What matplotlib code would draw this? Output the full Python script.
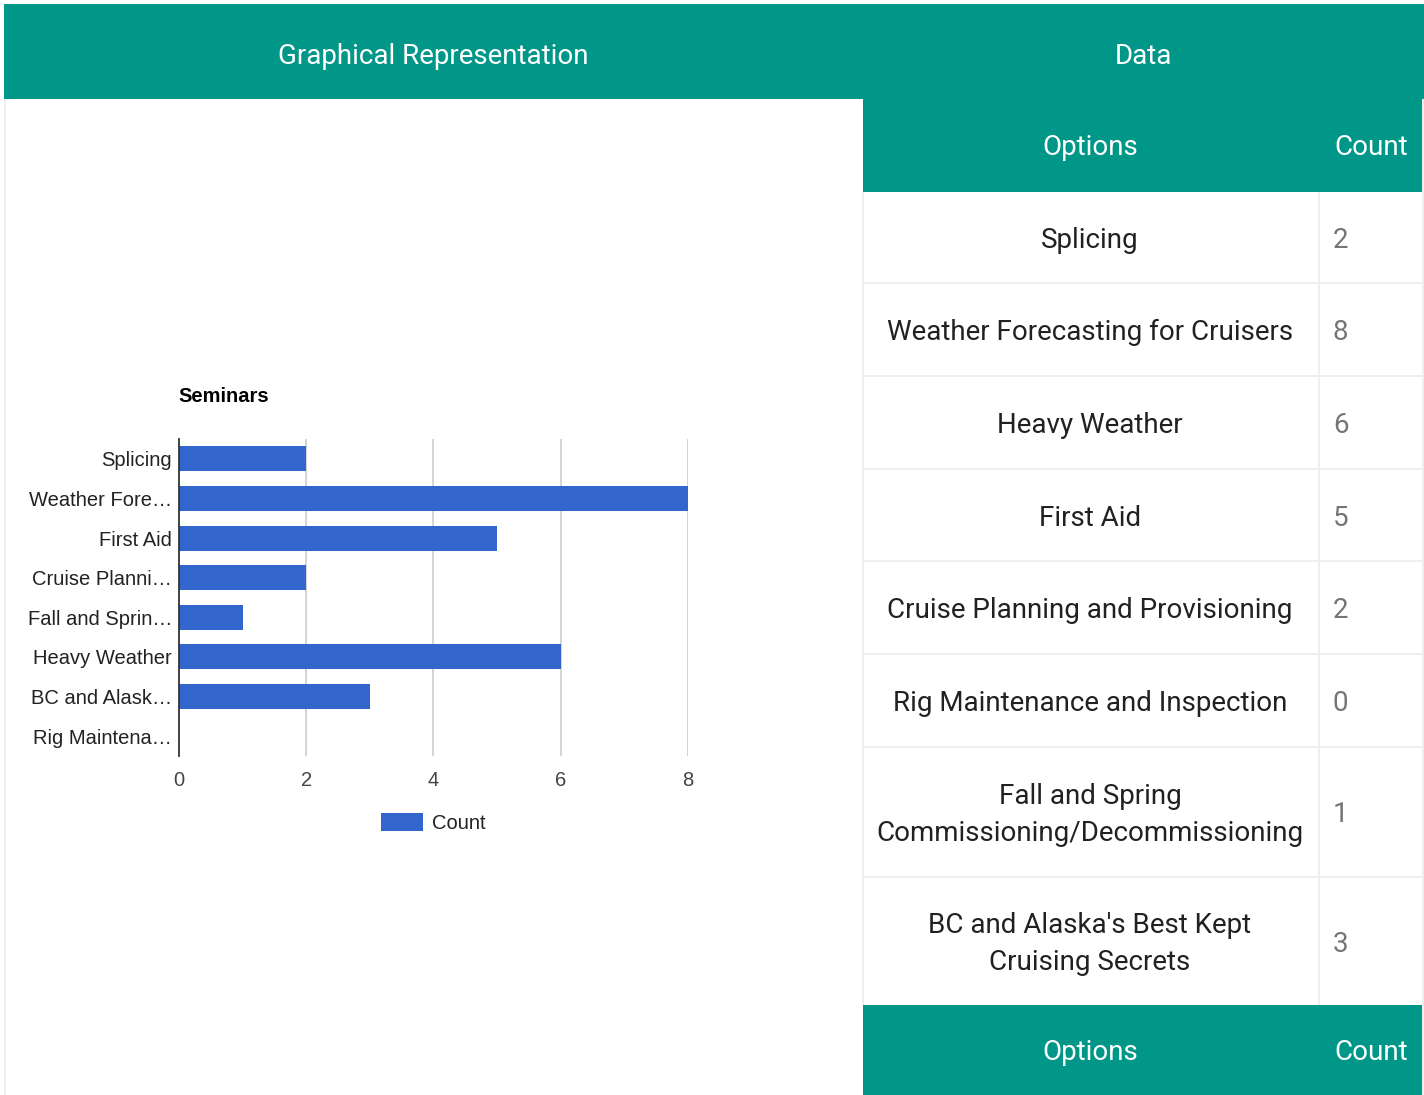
import numpy as np
import matplotlib
matplotlib.use("Agg")
import matplotlib.pyplot as plt
from matplotlib.patches import Rectangle

# ------------------------------------------------------------------ #
# Data                                                                #
# ------------------------------------------------------------------ #
chart_labels = ["Splicing", "Weather Fore…", "First Aid", "Cruise Planni…",
                "Fall and Sprin…", "Heavy Weather", "BC and Alask…",
                "Rig Maintena…"]
chart_counts = [2, 8, 5, 2, 1, 6, 3, 0]

table_options = ["Splicing",
                 "Weather Forecasting for Cruisers",
                 "Heavy Weather",
                 "First Aid",
                 "Cruise Planning and Provisioning",
                 "Rig Maintenance and Inspection",
                 "Fall and Spring\nCommissioning/Decommissioning",
                 "BC and Alaska's Best Kept\nCruising Secrets"]
table_counts = [2, 8, 6, 5, 2, 0, 1, 3]

x_ticks = [0, 2, 4, 6, 8]

TEAL = "#009688"
BAR = "#3366cc"
LINE = "#eeeeee"
FS_TAB = 20
FS_CH = 14.5

W, H = 1424, 1095
fig = plt.figure(figsize=(W / 100, H / 100), dpi=100)
fig.patch.set_facecolor("white")


def fx(x):
    return x / W


def fy(y):
    return 1 - y / H


def rect(x0, y0, x1, y1, color):
    fig.patches.append(Rectangle((fx(x0), fy(y1)), (x1 - x0) / W, (y1 - y0) / H,
                                 transform=fig.transFigure, facecolor=color,
                                 edgecolor="none", zorder=0))


def txt(x, y, s, **kw):
    fig.text(fx(x), fy(y), s, transform=fig.transFigure, **kw)


# --- page frame --- #
rect(4, 4, 1424, 99, TEAL)
rect(4, 99, 6, 1095, LINE)
rect(1422, 99, 1424, 1095, LINE)
txt(433, 56, "Graphical Representation", color="white", fontsize=FS_TAB,
    family="Roboto", ha="center", va="center")
txt(1143, 56, "Data", color="white", fontsize=FS_TAB,
    family="Roboto", ha="center", va="center")

# --- table --- #
tx0, tx1, tdiv = 863, 1422, 1319
row_edges = [99, 192, 283, 376, 469, 561, 654, 747, 877, 1005, 1095]
rect(tx0, row_edges[0], tx1, row_edges[1], TEAL)
rect(tx0, row_edges[-2], tx1, row_edges[-1], TEAL)
for k in (0, len(row_edges) - 2):
    yc = (row_edges[k] + row_edges[k + 1]) / 2 + 2
    txt(1090, yc, "Options", color="white", fontsize=FS_TAB, family="Roboto",
        ha="center", va="center")
    txt(1371, yc, "Count", color="white", fontsize=FS_TAB, family="Roboto",
        ha="center", va="center")

rect(tx0 - 1, row_edges[1], tx0 + 1, row_edges[-2], LINE)
rect(tdiv - 1, row_edges[1], tdiv + 1, row_edges[-2], LINE)
for ye in row_edges[2:-2]:
    rect(tx0, ye - 1, tx1, ye + 1, LINE)

for i, (opt, cnt) in enumerate(zip(table_options, table_counts)):
    yc = (row_edges[i + 1] + row_edges[i + 2]) / 2 + 3
    txt(1090, yc, opt, color="#212121", fontsize=FS_TAB, family="Roboto",
        ha="center", va="center", multialignment="center", linespacing=1.45)
    txt(1333, yc, str(cnt), color="#757575", fontsize=FS_TAB, family="Roboto",
        ha="left", va="center")

# --- chart --- #
ax = fig.add_axes([fx(179), fy(756), (688 - 179) / W, (756 - 439) / H])
ax.set_facecolor("none")
ypos = np.arange(len(chart_labels))
ax.barh(ypos, chart_counts, height=0.63, color=BAR, zorder=3, label="Count")
ax.set_ylim(len(chart_labels) - 0.5, -0.5)
ax.set_xlim(0, 8)
for xv in x_ticks[1:]:
    ax.axvline(xv, color="#cccccc", lw=1.2, zorder=1)
for s in ("top", "right", "bottom"):
    ax.spines[s].set_visible(False)
ax.spines["left"].set_color("#333333")
ax.spines["left"].set_linewidth(1.3)
ax.spines["left"].set_zorder(4)
ax.set_yticks(ypos)
ax.set_yticklabels(chart_labels, family="Liberation Sans", fontsize=FS_CH,
                   color="#222222")
ax.set_xticks(x_ticks)
ax.set_xticklabels([str(v) for v in x_ticks], family="Liberation Sans",
                   fontsize=FS_CH, color="#444444")
ax.tick_params(axis="both", length=0)
ax.tick_params(axis="y", pad=5)
ax.tick_params(axis="x", pad=11)

txt(178, 397, "Seminars", family="Liberation Sans", fontweight="bold",
    fontsize=FS_CH, color="black", ha="left", va="center")

ax.legend(loc="center", bbox_to_anchor=(fx(433), fy(823)),
          bbox_transform=fig.transFigure, frameon=False, borderpad=0,
          handlelength=2.1, handleheight=1.0, handletextpad=0.45,
          prop={"family": "Liberation Sans", "size": FS_CH},
          labelcolor="#222222")

fig.savefig("out.png", dpi=100, facecolor="white")
